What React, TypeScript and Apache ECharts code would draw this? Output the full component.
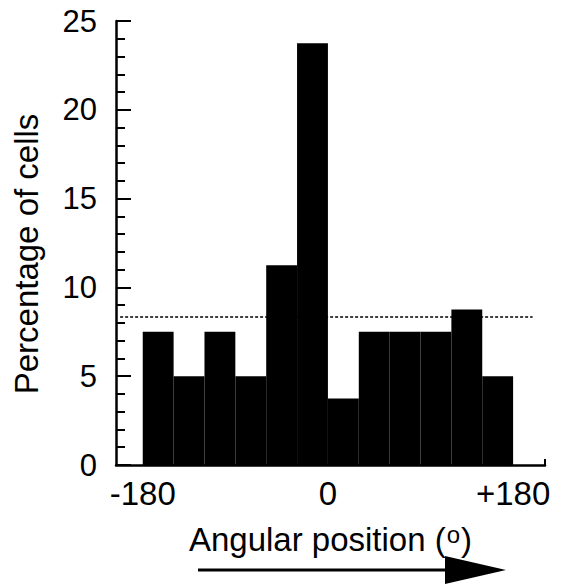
import React, { useEffect, useRef } from "react";
import * as echarts from "echarts";

// Histogram of angular positions: 30° bins from -180 to +180
const binStarts = [-180, -150, -120, -90, -60, -30, 0, 30, 60, 90, 120, 150];
const binWidth = 30;
const percentages = [7.5, 5, 7.5, 5, 11.25, 23.75, 3.75, 7.5, 7.5, 7.5, 8.75, 5];

// Level expected for a uniform distribution over 12 bins
const uniformLevel = 100 / 12;
const uniformSpan = [-202, 199];

const xTickValues = [-180, 0, 180];
const xTickLabels = ["-180", "0", "+180"];

const FONT = "'Liberation Sans', Arial, Helvetica, sans-serif";

export default function App() {
  const ref = useRef<HTMLDivElement>(null);

  useEffect(() => {
    if (!ref.current) return;
    const chart = echarts.init(ref.current, null, { renderer: "svg" });

    const bins = binStarts.map((s, i) => [s, s + binWidth, percentages[i]]);

    chart.setOption({
      animation: false,
      backgroundColor: "#ffffff",
      grid: {
        left: 116,
        right: 19,
        top: 21,
        bottom: 121,
        containLabel: false,
        outerBoundsMode: "none",
      },
      xAxis: {
        type: "value",
        min: -206,
        max: 211,
        name: "Angular position ({d|o})",
        nameLocation: "middle",
        nameGap: 57,
        nameTextStyle: {
          fontFamily: FONT,
          fontSize: 33,
          color: "#000",
          rich: {
            d: { fontFamily: FONT, fontSize: 24, color: "#000", padding: [0, 1, 11, 1] },
          },
        },
        axisLine: { show: true, onZero: false, lineStyle: { color: "#000", width: 2.5 } },
        axisTick: {
          show: true,
          inside: true,
          length: 6,
          customValues: [211],
          lineStyle: { color: "#000", width: 2 },
        },
        axisLabel: {
          customValues: xTickValues,
          formatter: (v: number) => xTickLabels[xTickValues.indexOf(v)] ?? "",
          fontFamily: FONT,
          fontSize: 33,
          color: "#000",
          margin: 12,
        },
        splitLine: { show: false },
      },
      yAxis: {
        type: "value",
        min: 0,
        max: 25,
        interval: 5,
        name: "Percentage of cells",
        nameLocation: "middle",
        nameGap: 73,
        nameTextStyle: {
          fontFamily: FONT,
          fontSize: 33,
          color: "#000",
          padding: [0, 22, 0, 0],
        },
        axisLine: { show: true, onZero: false, lineStyle: { color: "#000", width: 2.5 } },
        axisTick: { show: true, inside: true, length: 15, lineStyle: { color: "#000", width: 2 } },
        minorTick: { show: true, splitNumber: 5, length: 9, lineStyle: { color: "#000", width: 2 } },
        axisLabel: { fontFamily: FONT, fontSize: 31, color: "#000", margin: 19 },
        splitLine: { show: false },
      },
      series: [
        {
          type: "line",
          data: [
            [uniformSpan[0], uniformLevel],
            [uniformSpan[1], uniformLevel],
          ],
          symbol: "none",
          z: 1,
          lineStyle: { color: "#000", width: 1.5, type: [3, 2] },
        },
        {
          type: "custom",
          z: 2,
          data: bins,
          encode: { x: [0, 1], y: 2 },
          renderItem: (_params: any, api: any) => {
            const p0 = api.coord([api.value(0), api.value(2)]);
            const p1 = api.coord([api.value(1), 0]);
            return {
              type: "rect",
              shape: { x: p0[0], y: p0[1], width: p1[0] - p0[0], height: p1[1] - p0[1] },
              style: { fill: "#000" },
            };
          },
        },
      ],
      graphic: [
        {
          type: "line",
          shape: { x1: 198, y1: 570, x2: 450, y2: 570 },
          style: { stroke: "#000", lineWidth: 3 },
        },
        {
          type: "polygon",
          shape: { points: [[445, 556], [506, 570], [445, 584]] },
          style: { fill: "#000" },
        },
      ],
    });

    return () => chart.dispose();
  }, []);

  return (
    <div
      ref={ref}
      style={{ position: "fixed", left: 0, top: 0, width: 564, height: 586, background: "#fff" }}
    />
  );
}
